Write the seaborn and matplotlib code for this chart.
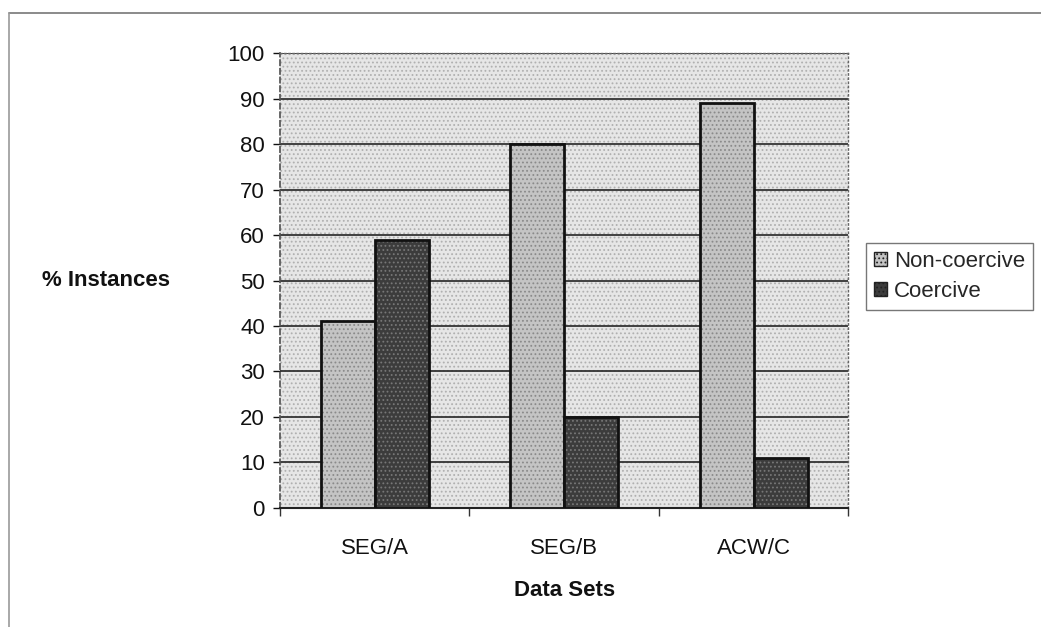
import numpy as np
import pandas as pd
import matplotlib
matplotlib.use("Agg")
import matplotlib.pyplot as plt
import seaborn as sns
from matplotlib.patches import Patch

# Data
data_sets = ["SEG/A", "SEG/B", "ACW/C"]
non_coercive = [41, 80, 89]
coercive = [59, 20, 11]
series_names = ["Non-coercive", "Coercive"]
y_ticks = list(range(0, 101, 10))

df = pd.DataFrame({
    "Data Sets": data_sets * 2,
    "% Instances": non_coercive + coercive,
    "Type": [series_names[0]] * 3 + [series_names[1]] * 3,
})

sns.set_theme(style="white")
plt.rcParams["font.family"] = ["Liberation Sans", "DejaVu Sans"]
plt.rcParams["hatch.linewidth"] = 0.8

FS = 16

fig = plt.figure(figsize=(10.41, 6.27), dpi=100)
ax = fig.add_axes([0.269, 0.190, 0.546, 0.725])

# dotted grey plot background
ax.set_facecolor("#e6e6e6")
ax.patch.set_hatch("....")
ax.patch.set_edgecolor("#b0b0b0")

palette = {series_names[0]: "#c4c4c4", series_names[1]: "#3c3c3c"}
sns.barplot(data=df, x="Data Sets", y="% Instances", hue="Type",
            palette=palette, width=0.57, ax=ax, saturation=1,
            edgecolor="#111111", linewidth=2, legend=False, zorder=3)

hatch_cols = ["#8a8a8a", "#777777"]
for cont, hc in zip(ax.containers, hatch_cols):
    for bar in cont:
        bar.set_hatch("....")
        bar._hatch_color = matplotlib.colors.to_rgba(hc)

ax.set_ylim(0, 100)
ax.set_yticks(y_ticks)
ax.yaxis.grid(True, color="#333333", linewidth=1.3, zorder=1)
ax.set_axisbelow(True)
ax.tick_params(axis="both", labelsize=FS, colors="#111111", length=5, pad=6,
               direction="out", left=True, bottom=True, width=1)

# category boundary ticks like Excel
ax.set_xticks([0, 1, 2])
ax.set_xticks([-0.5, 0.5, 1.5, 2.5], minor=True)
ax.tick_params(axis="x", which="major", length=0, pad=22)
ax.tick_params(axis="x", which="minor", length=6, color="#333333", bottom=True)

for side in ["top", "right"]:
    ax.spines[side].set_linestyle((0, (1, 2)))
    ax.spines[side].set_color("#666666")
    ax.spines[side].set_linewidth(1)
ax.spines["left"].set_color("#555555")
ax.spines["left"].set_linestyle((0, (3, 2)))
ax.spines["bottom"].set_color("#222222")
ax.spines["bottom"].set_linewidth(1.5)

ax.set_xlabel("Data Sets", fontsize=FS, fontweight="bold", labelpad=15, color="#111111")
ax.set_ylabel("")
fig.text(0.102, 0.553, "% Instances", fontsize=FS, fontweight="bold",
         ha="center", va="center", color="#111111")

# legend on the right
handles = [Patch(facecolor=palette[n], edgecolor="#222222", hatch="....", label=n)
           for n in series_names]
leg = fig.legend(handles=handles, loc="upper left", bbox_to_anchor=(0.832, 0.612),
                 frameon=True, fancybox=False, fontsize=FS, handlelength=0.6,
                 handleheight=0.6, handletextpad=0.3, labelspacing=0.4,
                 borderpad=0.35, borderaxespad=0)
leg.get_frame().set_edgecolor("#555555")
leg.get_frame().set_linewidth(1)

# outer chart border (top and left visible)
fig.add_artist(plt.Line2D([0.009, 1.0], [0.979, 0.979], color="#777777", linewidth=1.2))
fig.add_artist(plt.Line2D([0.009, 0.009], [0.0, 0.979], color="#999999", linewidth=1.2))

fig.savefig("out.png", dpi=100)
